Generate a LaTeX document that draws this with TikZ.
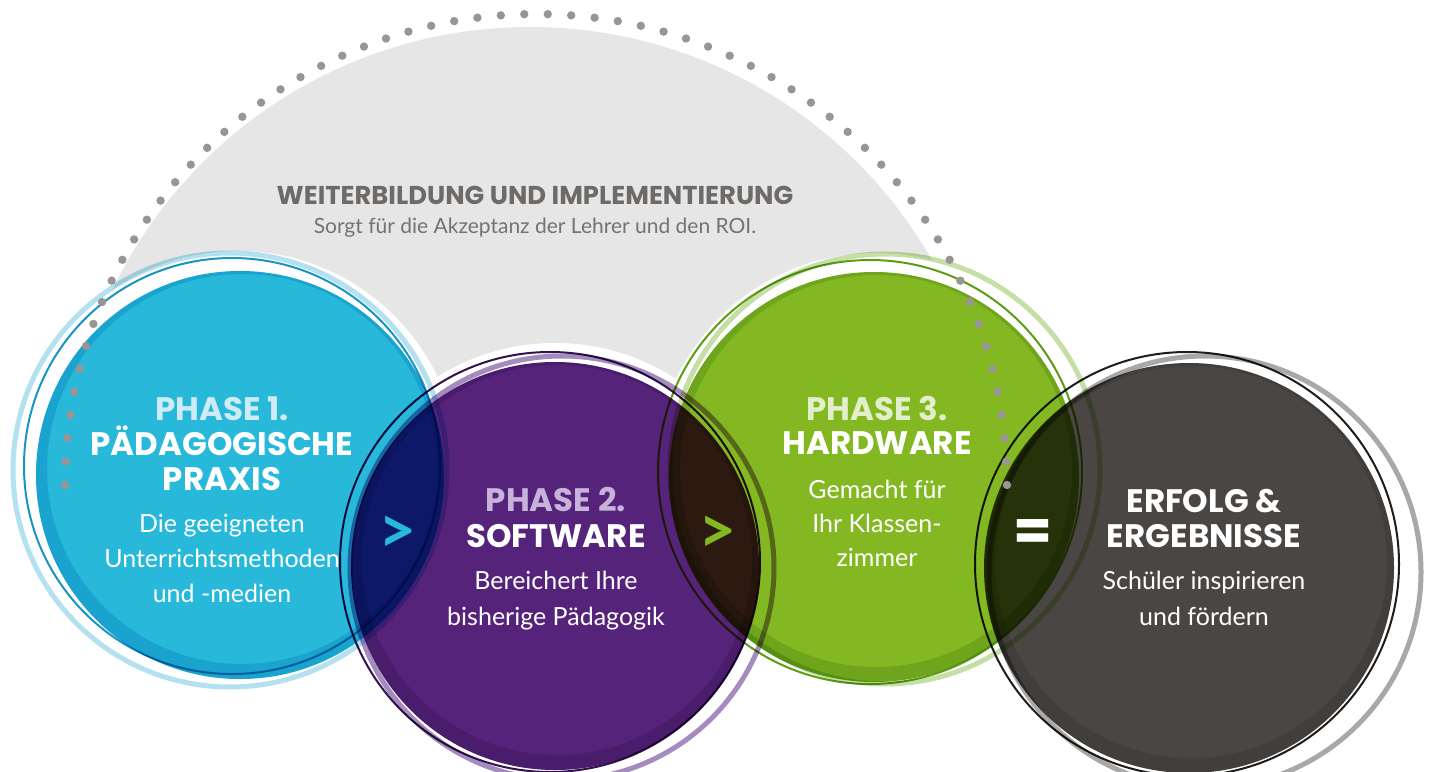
\documentclass[tikz,border=0pt]{standalone}
\usepackage{fontspec}
\setmainfont{Lato}
\newfontfamily\hdfont{Poppins}
\usetikzlibrary{calc}
\definecolor{bgGray}{HTML}{E6E6E6}
\definecolor{dotc}{HTML}{9A9595}
\definecolor{blueFill}{HTML}{27B8DA}
\definecolor{blueBandK}{HTML}{B0E3F3}
\definecolor{blueDark}{HTML}{1895C3}
\definecolor{blueLight}{HTML}{B3E1F0}
\definecolor{purpFill}{HTML}{55237A}
\definecolor{purpBandK}{HTML}{DECCE2}
\definecolor{purpDark}{HTML}{34124F}
\definecolor{purpLight}{HTML}{A58CBE}
\definecolor{grnFill}{HTML}{84B823}
\definecolor{grnBandK}{HTML}{D6E5CC}
\definecolor{grnDark}{HTML}{5E9C12}
\definecolor{grnLight}{HTML}{C6DFA6}
\definecolor{drkFill}{HTML}{4A4643}
\definecolor{drkBandK}{HTML}{E2E2E2}
\definecolor{drkDark}{HTML}{1F1D1C}
\definecolor{drkLight}{HTML}{A8A8A8}
\definecolor{phOne}{HTML}{CFEBF5}
\definecolor{phTwo}{HTML}{C7B3D9}
\definecolor{phThree}{HTML}{E3EFCC}
\definecolor{topText}{HTML}{6E6A68}
\definecolor{subText}{HTML}{77726F}
\tikzset{
  hd/.style={anchor=base, inner sep=0pt, text=white, font=\hdfont\fontsize{32.5}{38}\selectfont\bfseries},
  bd/.style={anchor=base, inner sep=0pt, text=white, font=\fontsize{25}{30}\selectfont},
  sym/.style={anchor=center, inner sep=0pt, font=\fontsize{66}{70}\selectfont\bfseries},
  eqsym/.style={anchor=center, inner sep=0pt, font=\hdfont\fontsize{56}{60}\selectfont\bfseries},
  lightring/.style={line width=5pt},
  darkring/.style={line width=2pt},
}
\begin{document}
\begin{tikzpicture}[x=1pt,y=-1pt]
\useasboundingbox (0,0) rectangle (1431,771);
\fill[white] (0,0) rectangle (1431,771);
% gray half disc
\begin{scope}
  \clip (0,0) rectangle (1431,490);
  \fill[bgGray] (530,490) circle[radius=463pt];
\end{scope}
% white halos
\fill[white] (238,472) circle[radius=221pt];
\fill[white] (555,564) circle[radius=221pt];
\fill[white] (876,475) circle[radius=222pt];
\fill[white] (1192,568) circle[radius=221pt];
% coloured circles, multiplied
\begin{scope}[blend mode=multiply]
  % blue
  \fill[blueFill] (240,475) circle[radius=204pt];
  \fill[blueBandK, even odd rule] (240,475) circle[radius=204pt] (242,469) circle[radius=195pt];
  \draw[blueLight, lightring] (230,470) circle[radius=217pt];
  \draw[blueDark, darkring] (232,466) circle[radius=208pt];
  % purple
  \fill[purpFill] (555,566) circle[radius=204pt];
  \fill[purpBandK, even odd rule] (555,566) circle[radius=204pt] (557,560) circle[radius=195pt];
  \draw[purpLight, lightring] (562,568) circle[radius=212pt];
  \draw[purpDark, darkring] (550,562) circle[radius=210pt];
  % green
  \fill[grnFill] (874,477) circle[radius=205pt];
  \fill[grnBandK, even odd rule] (874,477) circle[radius=205pt] (876,471) circle[radius=196pt];
  \draw[grnLight, lightring] (885,469) circle[radius=215pt];
  \draw[grnDark, darkring] (870,472) circle[radius=212pt];
  % dark
  \fill[drkFill] (1189,568) circle[radius=205pt];
  \fill[drkBandK, even odd rule] (1189,568) circle[radius=205pt] (1191,562) circle[radius=196pt];
  \draw[drkLight, lightring] (1205,572) circle[radius=216pt];
  \draw[drkDark, darkring] (1187,564) circle[radius=212pt];
\end{scope}
% dotted arc
\foreach \i in {0,...,63}
  \fill[dotc, shift={(536,485)}] ({180-\i*180/63}:471pt) circle[radius=4.2pt];
% top texts
\node[anchor=base, inner sep=0pt, text=topText, font=\hdfont\fontsize{25.8}{30}\selectfont\bfseries] (toph) at (535,204) {WEITERBILDUNG UND IMPLEMENTIERUNG};
\node[anchor=base, inner sep=0pt, text=subText, font=\fontsize{21}{25}\selectfont] (tops) at (535,233) {Sorgt für die Akzeptanz der Lehrer und den ROI.};
% phase 1
\node[hd, text=phOne] (h1a) at (222,420) {PHASE 1.};
\node[hd] (h1b) at (222,455) {PÄDAGOGISCHE};
\node[hd] (h1c) at (222,490) {PRAXIS};
\node[bd] (t1a) at (222,532) {Die geeigneten};
\node[bd] (t1b) at (222,567) {Unterrichtsmethoden};
\node[bd] (t1c) at (222,602) {und -medien};
% phase 2
\node[hd, text=phTwo] (h2a) at (556,511) {PHASE 2.};
\node[hd] (h2b) at (556,547) {SOFTWARE};
\node[bd] (t2a) at (556,589) {Bereichert Ihre};
\node[bd] (t2b) at (556,625) {bisherige Pädagogik};
% phase 3
\node[hd, text=phThree] (h3a) at (877,420) {PHASE 3.};
\node[hd] (h3b) at (877,454) {HARDWARE};
\node[bd] (t3a) at (877,498) {Gemacht für};
\node[bd] (t3b) at (877,532) {Ihr Klassen-};
\node[bd] (t3c) at (877,566) {zimmer};
% result
\node[hd] (h4a) at (1204,512) {ERFOLG \&};
\node[hd] (h4b) at (1204,547) {ERGEBNISSE};
\node[bd] (t4a) at (1204,589) {Schüler inspirieren};
\node[bd] (t4b) at (1204,625) {und fördern};
% symbols
\node[sym, text=blueFill] (gt1) at (398,535) {>};
\node[sym, text=grnFill] (gt2) at (718,535) {>};
\node[eqsym, text=white] (eq) at (1033,535) {=};
\end{tikzpicture}
\end{document}
